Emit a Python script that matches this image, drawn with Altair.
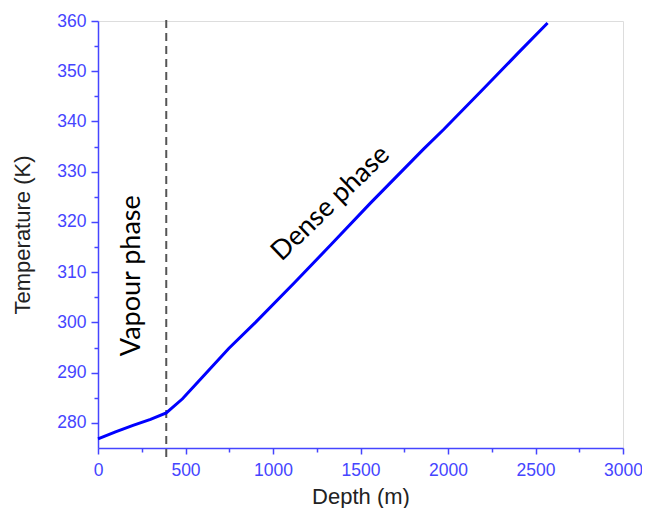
import altair as alt
import pandas as pd

depth = [0, 100, 200, 300, 390, 483, 596, 747, 900, 1125, 1332, 1558, 1860, 1975, 2200, 2400, 2569]
temperature = [276.8, 278.2, 279.5, 280.7, 282.0, 284.8, 289.1, 294.8, 300.0, 308.0, 315.5, 323.8, 334.5, 338.4, 346.4, 353.6, 359.6]

phase_boundary = [390]
label_text = ["Vapour phase", "Dense phase"]
label_depth = [192, 1330]
label_temp = [309.3, 323.7]
label_angle = [270, 316]

x_major = list(range(0, 3001, 500))
x_minor = list(range(250, 3000, 500))
y_major = list(range(280, 361, 10))
y_minor = list(range(285, 360, 10))

df = pd.DataFrame({"depth": depth, "temperature": temperature})
df_b = pd.DataFrame({"depth": phase_boundary})
df_l = pd.DataFrame({"text": label_text, "depth": label_depth, "temperature": label_temp, "angle": label_angle})

AX = "#4545ff"

x_scale = alt.Scale(domain=[0, 3000], nice=False)
y_scale = alt.Scale(domain=[275, 360], nice=False)

common = dict(grid=False, domainColor=AX, tickColor=AX, labelColor=AX, domainWidth=1.5, tickWidth=1.5,
              labelFont="Liberation Sans", labelFontSize=17.5, format="d",
              titleFont="Liberation Sans", titleFontSize=22, titleFontWeight="normal", titleColor="#222222",
              labelFlush=False, labelOverlap=False)

x_axis = alt.Axis(title="Depth (m)", values=x_major, tickSize=6, labelPadding=7, titlePadding=8, orient="bottom", **common)
y_axis = alt.Axis(title="Temperature (K)", values=y_major, tickSize=7, labelPadding=5, titlePadding=22, orient="left", **common)

x_minor_axis = alt.Axis(title=None, values=x_minor, tickSize=4, labels=False, domain=False, grid=False,
                        tickColor=AX, tickWidth=1.5, orient="bottom")
y_minor_axis = alt.Axis(title=None, values=y_minor, tickSize=4, labels=False, domain=False, grid=False,
                        tickColor=AX, tickWidth=1.5, orient="left")

line = alt.Chart(df).mark_line(color="#0000ff", strokeWidth=3).encode(
    x=alt.X("depth:Q", scale=x_scale, axis=x_axis),
    y=alt.Y("temperature:Q", scale=y_scale, axis=y_axis),
)

rule = alt.Chart(df_b).mark_rule(color="#555555", strokeWidth=2, strokeDash=[8, 5]).encode(
    x=alt.X("depth:Q", scale=x_scale, axis=None),
    y=alt.value(-1),
    y2=alt.value(439),
)

texts = alt.Chart(df_l).mark_text(font="Lato", fontSize=27, color="#000000", align="center", baseline="middle").encode(
    x=alt.X("depth:Q", scale=x_scale, axis=x_minor_axis),
    y=alt.Y("temperature:Q", scale=y_scale, axis=y_minor_axis),
    text="text:N",
    angle=alt.Angle("angle:Q", scale=None),
)

chart = alt.layer(rule, line, texts).resolve_axis(x="independent", y="independent").properties(
    width=525, height=427,
    autosize=alt.AutoSizeParams(type="none"),
    padding={"left": 90, "top": 13, "right": 19, "bottom": 60},
).configure_view(stroke=None).configure(background="white")

chart.save("out.html", embed_options={"renderer": "svg", "actions": False})
